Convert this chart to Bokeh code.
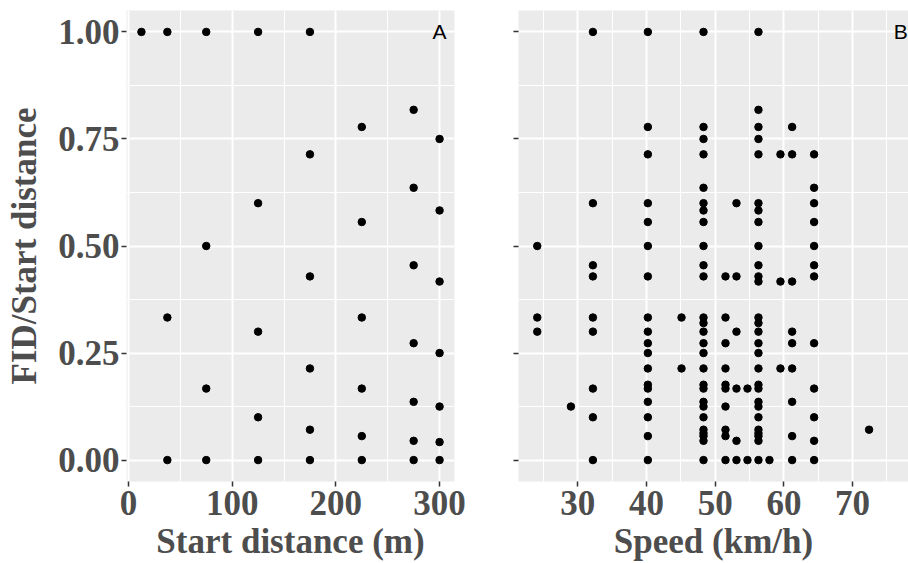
from bokeh.plotting import figure
from bokeh.layouts import row
from bokeh.models import FixedTicker, NumeralTickFormatter, Label
from bokeh.embed import file_html
from bokeh.resources import INLINE

# Panel A: start distance (m) vs FID/start distance
start_distance = [12.5,
                  37.5, 37.5, 37.5,
                  75, 75, 75, 75,
                  125, 125, 125, 125, 125,
                  175, 175, 175, 175, 175, 175,
                  225, 225, 225, 225, 225, 225,
                  275, 275, 275, 275, 275, 275, 275,
                  300, 300, 300, 300, 300, 300, 300]
ratio_a = [1.0,
           1.0, 0.333, 0.0,
           1.0, 0.5, 0.167, 0.0,
           1.0, 0.6, 0.3, 0.1, 0.0,
           1.0, 0.714, 0.429, 0.214, 0.071, 0.0,
           0.778, 0.556, 0.333, 0.167, 0.056, 0.0,
           0.818, 0.636, 0.455, 0.273, 0.136, 0.045, 0.0,
           0.75, 0.583, 0.417, 0.25, 0.125, 0.042, 0.0]

# Panel B: speed (km/h) vs FID/start distance, one list per speed class
speed_classes = [24.1, 29.0, 32.2, 40.2, 45.1, 48.3, 51.5, 53.1, 54.7,
                 56.3, 57.9, 59.5, 61.2, 64.4, 72.4]
ratio_by_speed = [
    [0.5, 0.333, 0.3],
    [0.125],
    [1.0, 0.6, 0.455, 0.429, 0.333, 0.3, 0.167, 0.1, 0.0],
    [1.0, 0.778, 0.714, 0.6, 0.556, 0.5, 0.429, 0.333, 0.3, 0.273, 0.25,
     0.214, 0.176, 0.167, 0.136, 0.1, 0.056, 0.0],
    [0.333, 0.214],
    [1.0, 0.778, 0.75, 0.714, 0.636, 0.6, 0.583, 0.556, 0.5, 0.455, 0.429,
     0.333, 0.32, 0.3, 0.273, 0.25, 0.214, 0.176, 0.167, 0.136, 0.125, 0.1,
     0.071, 0.0625, 0.056, 0.045, 0.0],
    [0.429, 0.333, 0.273, 0.214, 0.176, 0.167, 0.125, 0.071, 0.056, 0.0],
    [0.6, 0.429, 0.3, 0.167, 0.045, 0.0],
    [0.167, 0.0],
    [1.0, 0.818, 0.778, 0.75, 0.714, 0.6, 0.583, 0.556, 0.5, 0.455, 0.429,
     0.417, 0.333, 0.32, 0.3, 0.273, 0.25, 0.214, 0.176, 0.167, 0.136, 0.125,
     0.1, 0.071, 0.0625, 0.056, 0.045, 0.0],
    [0.0],
    [0.714, 0.417, 0.214],
    [0.778, 0.714, 0.417, 0.3, 0.273, 0.214, 0.136, 0.056, 0.0],
    [0.714, 0.636, 0.6, 0.556, 0.5, 0.455, 0.429, 0.273, 0.167, 0.1, 0.045, 0.0],
    [0.071],
]

x_ticks_a = [0, 100, 200, 300]
x_minor_a = [50, 150, 250]
x_ticks_b = [30, 40, 50, 60, 70]
x_minor_b = [25, 35, 45, 55, 65, 75]
y_ticks = [0.0, 0.25, 0.5, 0.75, 1.0]
y_minor = [0.125, 0.375, 0.625, 0.875]

speed = [s for s, ys in zip(speed_classes, ratio_by_speed) for _ in ys]
ratio_b = [y for ys in ratio_by_speed for y in ys]

TEXT = "#4D4D4D"
TICK = "#333333"
SERIF = "Liberation Serif"


def style(p, xt, xm, show_ylabels):
    p.background_fill_color = "#EBEBEB"
    p.border_fill_color = "white"
    p.outline_line_color = None
    p.xaxis.ticker = FixedTicker(ticks=xt, minor_ticks=xm)
    p.yaxis.ticker = FixedTicker(ticks=y_ticks, minor_ticks=y_minor)
    p.yaxis.formatter = NumeralTickFormatter(format="0.00")
    for ax in (p.xaxis, p.yaxis):
        ax.axis_line_color = None
        ax.major_tick_line_color = TICK
        ax.major_tick_line_width = 1.5
        ax.major_tick_out = 5
        ax.major_tick_in = 0
        ax.minor_tick_line_color = None
        ax.major_label_text_font = SERIF
        ax.major_label_text_font_style = "bold"
        ax.major_label_text_font_size = "35px"
        ax.major_label_text_color = TEXT
        ax.major_label_standoff = 2
        ax.axis_label_text_font = SERIF
        ax.axis_label_text_font_style = "bold"
        ax.axis_label_text_font_size = "35px"
        ax.axis_label_text_color = TEXT
        ax.axis_label_standoff = 4
    p.xaxis.major_label_standoff = 4
    p.yaxis.axis_label_standoff = 11
    if not show_ylabels:
        p.yaxis.major_label_overrides = {t: "" for t in y_ticks}
        p.yaxis.major_label_standoff = 0
    for g in (p.xgrid, p.ygrid):
        g.grid_line_color = "white"
        g.grid_line_width = 2
        g.minor_grid_line_color = "white"
        g.minor_grid_line_width = 1


pa = figure(width=490, height=563, x_range=(-1.9, 314.4), y_range=(-0.05, 1.05),
            output_backend="svg", toolbar_location=None,
            min_border_left=126, min_border_right=36, min_border_top=10,
            min_border_bottom=81,
            x_axis_label="Start distance (m)", y_axis_label="FID/Start distance")
style(pa, x_ticks_a, x_minor_a, True)
pa.scatter(start_distance, ratio_a, size=7.5, color="black")
pa.add_layout(Label(x=300, y=1.0, text="A", text_align="center",
                    text_baseline="middle", text_font="Liberation Sans",
                    text_font_size="21px", text_color="black"))

pb = figure(width=418, height=563, x_range=(21.37, 78.14), y_range=(-0.05, 1.05),
            output_backend="svg", toolbar_location=None,
            min_border_left=28, min_border_right=0, min_border_top=10,
            min_border_bottom=81,
            x_axis_label="Speed (km/h)")
style(pb, x_ticks_b, x_minor_b, False)
pb.scatter(speed, ratio_b, size=7.5, color="black")
pb.add_layout(Label(x=77.0, y=1.0, text="B", text_align="center",
                    text_baseline="middle", text_font="Liberation Sans",
                    text_font_size="21px", text_color="black"))

layout = row(pa, pb)
open("out.html", "w").write(file_html(layout, INLINE))
